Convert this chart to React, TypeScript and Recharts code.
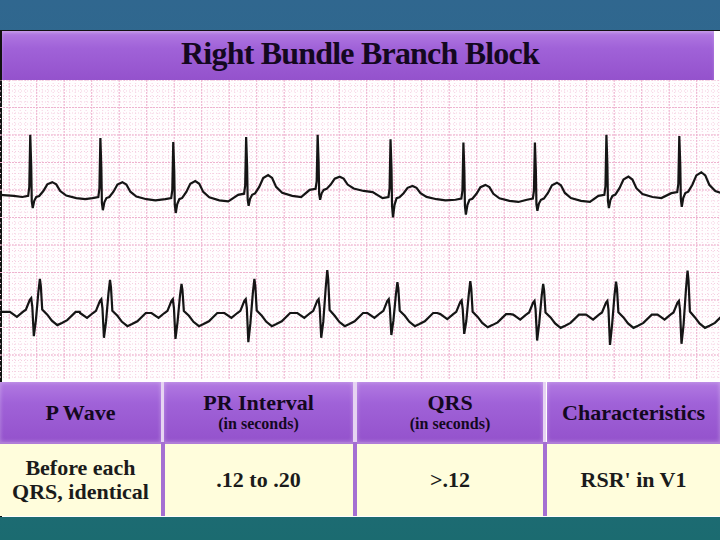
import { LineChart, Line, XAxis, YAxis, CartesianGrid } from 'recharts';

// time in seconds, voltage in mV (25 mm/s, 10 mm/mV paper)
const TOP_LEAD = [{ t: 0, v: 0.04 }, { t: 0.1, v: 0.02 }];
const TOP_BEATS = [0.22, 0.73, 1.26, 1.79, 2.31, 2.84, 3.37, 3.89, 4.41, 4.94];
const TOP_BASE = [0, -0.02, -0.04, 0.04, 0.13, -0.02, -0.05, -0.05, 0.02, 0.07];
const TOP_R = [1.13, 1.09, 1.04, 1.05, 1.0, 1.07, 1.04, 1.04, 1.11, 1.04];
const TOP_S = [0.2, 0.22, 0.25, 0.2, 0.18, 0.35, 0.27, 0.2, 0.22, 0.25];
const TOP_T = [0.27, 0.29, 0.33, 0.36, 0.24, 0.22, 0.27, 0.31, 0.35, 0.38];
// [ms from R, value, which amplitude scales it]
const TOP_SHAPE: [number, number, string][] = [
  [-58, 0, 'n'], [-15, 0.02, 'n'], [-7, 0.16, 'r'], [0, 1, 'r'], [7, 0.5, 'r'],
  [11, -0.4, 's'], [18, -1, 's'], [29, -0.35, 's'], [44, 0, 'n'],
  [65, 0.07, 't'], [95, 0.4, 't'], [124, 0.85, 't'], [160, 1, 't'], [189, 0.85, 't'],
  [218, 0.4, 't'], [262, 0.1, 't'], [335, -0.02, 'n'], [400, -0.04, 'n'],
];

const BOTTOM_LEAD = [{ t: 0, v: 0.02 }];
const BOTTOM_BEATS = [0.29, 0.8, 1.32, 1.85, 2.38, 2.89, 3.42, 3.95, 4.48, 5.0];
const BOTTOM_BASE = [0.02, 0, 0, 0, 0, 0, -0.02, -0.03, -0.03, -0.03];
const BOTTOM_R = [0.6, 0.6, 0.53, 0.62, 0.78, 0.56, 0.6, 0.56, 0.6, 0.8];
const BOTTOM_S = [0.44, 0.45, 0.47, 0.53, 0.45, 0.4, 0.36, 0.47, 0.55, 0.53];
const BOTTOM_T = [1, 1, 1, 1, 1, 1, 1, 1, 1, 1];
const BOTTOM_SHAPE: [number, number, string][] = [
  [-218, 0, 'n'], [-167, -0.09, 'n'], [-124, 0, 'n'], [-102, 0.04, 'n'], [-73, 0.22, 'n'],
  [-63, 0.25, 'n'], [-55, 0.09, 'n'], [-44, -1, 's'], [-29, -0.35, 's'], [-11, 0.6, 'r'],
  [0, 1, 'r'], [7, 0.78, 'r'], [17, 0.07, 'r'], [54, -0.05, 'n'], [87, -0.16, 'n'],
  [127, -0.24, 'n'], [160, -0.2, 'n'], [199, -0.15, 'n'], [260, 0, 'n'], [290, 0, 'n'],
];

const HEADERS = [
  { title: 'P Wave', sub: '' },
  { title: 'PR Interval', sub: '(in seconds)' },
  { title: 'QRS', sub: '(in seconds)' },
  { title: 'Characteristics', sub: '' },
];
const CELLS = [['Before each', 'QRS, identical'], ['.12 to .20'], ['>.12'], ["RSR' in V1"]];

function buildStrip(lead, beats, base, r, s, tw, shape) {
  const pts = [...lead];
  beats.forEach((t0, i) => {
    shape.forEach(([ms, v, k]) => {
      const amp = k === 'r' ? r[i] : k === 's' ? s[i] : k === 't' ? tw[i] : 1;
      pts.push({ t: +(t0 + ms / 1000).toFixed(3), v: +(base[i] + v * amp).toFixed(3) });
    });
  });
  return pts;
}

const topData = buildStrip(TOP_LEAD, TOP_BEATS, TOP_BASE, TOP_R, TOP_S, TOP_T, TOP_SHAPE);
const bottomData = buildStrip(BOTTOM_LEAD, BOTTOM_BEATS, BOTTOM_BASE, BOTTOM_R, BOTTOM_S, BOTTOM_T, BOTTOM_SHAPE);

const W = 720;
const H = 300;
const steps = (start, step, max) => {
  const out = [];
  for (let p = start; p <= max; p += step) out.push(p);
  return out;
};
const minorX = steps(3.7, 5.5, W);
const majorX = steps(9.2, 27.5, W);
const minorY = steps(5.5, 5.5, H);
const majorY = steps(0, 27.5, H);

const COLS = [
  { left: 0, width: 161 },
  { left: 164, width: 189 },
  { left: 357, width: 186 },
  { left: 547, width: 173 },
];

const serif = '"Liberation Serif", "DejaVu Serif", serif';
const purple = 'linear-gradient(180deg, #b27ae2 0%, #a062d8 35%, #9452cc 100%)';

export default function App() {
  return (
    <div style={{ width: 720, height: 540, position: 'relative', overflow: 'hidden', fontFamily: serif,
      background: 'linear-gradient(180deg, #30678f 0%, #2a6a88 50%, #1b6b70 100%)' }}>
      <style>{'body{margin:0}'}</style>
      <div style={{ position: 'absolute', left: 0, top: 30, width: 720, height: 487, background: '#fffdfe',
        borderTop: '1px solid #111', borderLeft: '2px solid #111', boxSizing: 'border-box' }} />
      <div style={{ position: 'absolute', left: 2, top: 31, width: 712, height: 49, background: purple,
        boxShadow: 'inset 0 2px 3px rgba(255,255,255,0.25)' }}>
        <div style={{ position: 'absolute', left: 0, right: 0, top: 4, textAlign: 'center', fontSize: 32,
          fontWeight: 'bold', letterSpacing: -0.8, color: '#14081f', paddingLeft: 4 }}>
          Right Bundle Branch Block
        </div>
      </div>
      <div style={{ position: 'absolute', left: 0, top: 80 }}>
        <LineChart width={W} height={H} margin={{ top: 0, right: 0, bottom: 0, left: 0 }}>
          <CartesianGrid stroke="#f5cfe1" strokeDasharray="1 2" verticalPoints={minorX} horizontalPoints={minorY} />
          <CartesianGrid stroke="#eeb3cf" strokeDasharray="2 1" verticalPoints={majorX} horizontalPoints={majorY} />
          <XAxis type="number" dataKey="t" domain={[0, 5.236]} hide allowDataOverflow />
          <YAxis yAxisId="top" type="number" domain={[-3.327, 2.127]} hide allowDataOverflow />
          <YAxis yAxisId="bottom" type="number" domain={[-1.218, 4.236]} hide allowDataOverflow />
          <Line yAxisId="top" data={topData} dataKey="v" type="linear" stroke="#151515" strokeWidth={2.2}
            dot={false} isAnimationActive={false} />
          <Line yAxisId="bottom" data={bottomData} dataKey="v" type="linear" stroke="#151515" strokeWidth={2.2}
            dot={false} isAnimationActive={false} />
        </LineChart>
      </div>
      {COLS.map((c, i) => (
        <div key={'h' + i} style={{ position: 'absolute', left: c.left, top: 382, width: c.width, height: 60,
          background: purple, boxShadow: 'inset 0 0 4px rgba(255,255,255,0.35)', color: '#14081f',
          textAlign: 'center', fontWeight: 'bold' }}>
          <div style={{ fontSize: 22, lineHeight: '24px', marginTop: HEADERS[i].sub ? 9 : 19 }}>{HEADERS[i].title}</div>
          {HEADERS[i].sub && <div style={{ fontSize: 16, lineHeight: '18px' }}>{HEADERS[i].sub}</div>}
        </div>
      ))}
      {COLS.map((c, i) => (
        <div key={'b' + i} style={{ position: 'absolute', left: c.left, top: 442, width: c.width, height: 74,
          background: '#fffddc', borderTop: '2px solid #b07cd8', boxSizing: 'border-box', color: '#1b1b1b',
          display: 'flex', flexDirection: 'column', justifyContent: 'center', alignItems: 'center',
          fontWeight: 'bold', fontSize: 22, lineHeight: '24px' }}>
          {CELLS[i].map((line) => <div key={line}>{line}</div>)}
        </div>
      ))}
      {[161, 353, 543].map((x) => (
        <div key={x} style={{ position: 'absolute', left: x, top: 442, width: 4, height: 74,
          background: '#a56fd2' }} />
      ))}
      {[161, 353, 543].map((x) => (
        <div key={'g' + x} style={{ position: 'absolute', left: x, top: 382, width: x === 353 ? 4 : 3, height: 60,
          background: '#e6d4f2' }} />
      ))}
    </div>
  );
}
